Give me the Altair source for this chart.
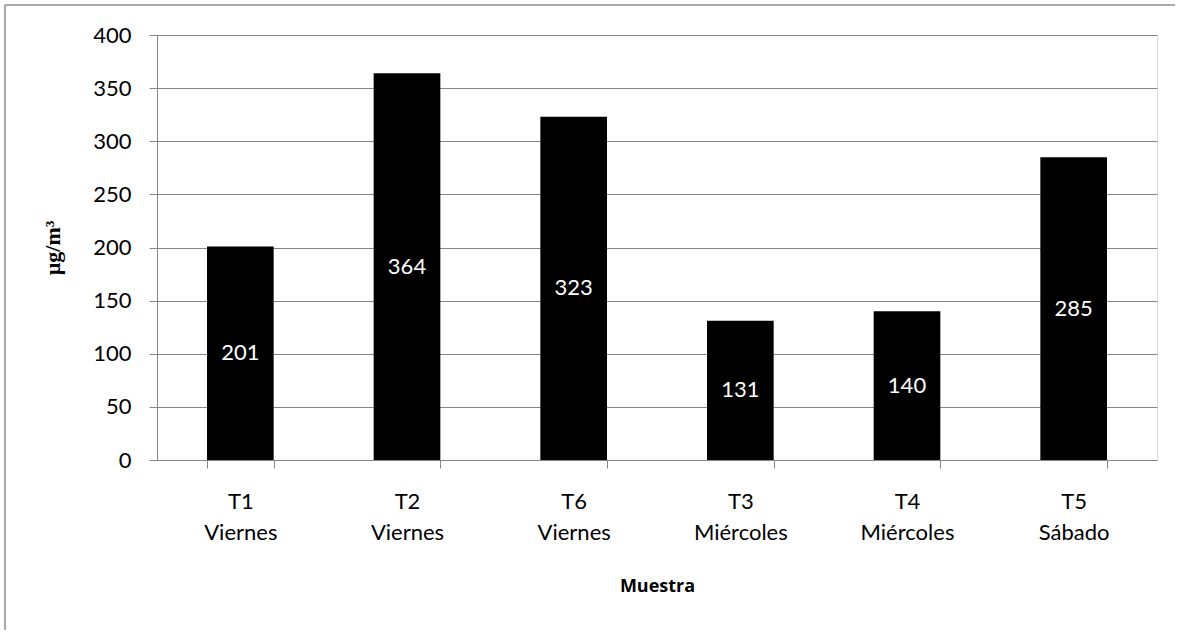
import altair as alt
import pandas as pd

# Sample codes, day of sampling and measured concentration (µg/m³)
codes = ["T1", "T2", "T6", "T3", "T4", "T5"]
days = ["Viernes", "Viernes", "Viernes", "Miércoles", "Miércoles", "Sábado"]
values = [201, 364, 323, 131, 140, 285]
y_ticks = [0, 50, 100, 150, 200, 250, 300, 350, 400]

df = pd.DataFrame({
    "muestra": [f"{c}|{d}" for c, d in zip(codes, days)],
    "valor": values,
})
df["mitad"] = df["valor"] / 2

FONT = "Lato"
GRAY = "#868686"

x_enc = alt.X(
    "muestra:N",
    sort=None,
    scale=alt.Scale(paddingInner=0.6, paddingOuter=0.3),
    axis=alt.Axis(
        title="Muestra",
        labelExpr="split(datum.label, '|')",
        labelAngle=0,
        labelFont=FONT,
        labelFontSize=22,
        labelColor="black",
        labelLineHeight=31,
        labelPadding=23,
        tickBand="extent",
        tickSize=8,
        tickColor=GRAY,
        domainColor=GRAY,
        titleFont="Open Sans",
        titleFontWeight="bold",
        titleFontSize=18,
        titleColor="black",
        titlePadding=34,
    ),
)

y_scale = alt.Scale(domain=[0, 400], nice=False)

bars = alt.Chart(df).mark_bar(color="black").encode(
    x=x_enc,
    y=alt.Y(
        "valor:Q",
        scale=y_scale,
        axis=alt.Axis(
            title="µg/m³",
            values=y_ticks,
            labelFont=FONT,
            labelFontSize=22,
            labelColor="black",
            labelPadding=18,
            tickSize=8,
            tickColor=GRAY,
            domainColor=GRAY,
            gridColor=GRAY,
            gridOpacity=1,
            titleFont="Liberation Serif",
            titleFontWeight="bold",
            titleFontSize=22,
            titleColor="black",
            titlePadding=28,
        ),
    ),
)

labels = alt.Chart(df).mark_text(
    color="white", font=FONT, fontSize=22, baseline="middle"
).encode(
    x=alt.X("muestra:N", sort=None),
    y=alt.Y("mitad:Q", scale=y_scale),
    text=alt.Text("valor:Q"),
)

# Gray frame edges (left and top) around the figure
one = pd.DataFrame({"k": [0]})
frame_left = alt.Chart(one).mark_rule(color="#8c8c8c", strokeWidth=1.5).encode(
    x=alt.value(-152), y=alt.value(-30), y2=alt.value(595),
)
frame_top = alt.Chart(one).mark_rule(color="#8c8c8c", strokeWidth=1.5).encode(
    x=alt.value(-152), x2=alt.value(1018), y=alt.value(-30),
)

chart = alt.layer(frame_left, frame_top, bars, labels).properties(
    width=1000,
    height=425,
    autosize=alt.AutoSizeParams(type="none"),
    padding={"left": 157, "top": 35, "right": 20, "bottom": 172},
).configure_view(stroke=None).configure(background="white")

chart.save("out.html", embed_options={"renderer": "svg", "actions": False})
